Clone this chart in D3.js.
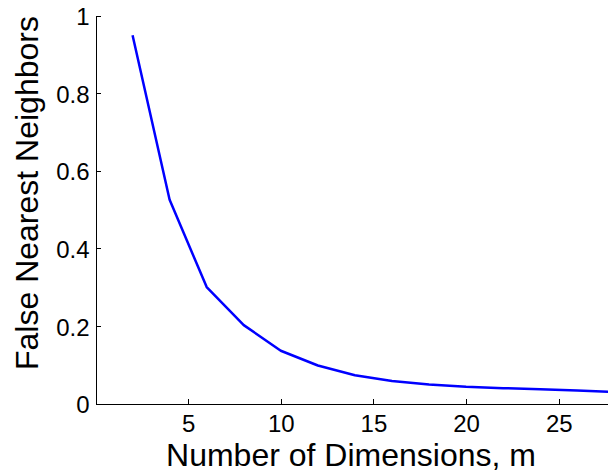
<!DOCTYPE html>
<html>
<head>
<meta charset="utf-8">
<script src="https://cdn.jsdelivr.net/npm/d3@7"></script>
<style>
  html, body { margin: 0; padding: 0; background: #fff; }
  svg { display: block; }
  text { font-family: "Liberation Sans", Arial, Helvetica, sans-serif; fill: #000; }
</style>
</head>
<body>
<svg id="chart" width="608" height="474"></svg>
<script>
// Embedding dimension m and the fraction of false nearest neighbours at each m
const dims = [2, 4, 6, 8, 10, 12, 14, 16, 18, 20, 22, 24, 26, 28];
const fnn  = [0.949, 0.525, 0.300, 0.202, 0.136, 0.098, 0.073, 0.058, 0.049, 0.043, 0.0395, 0.037, 0.0335, 0.030];

const xTicks = [5, 10, 15, 20, 25];
const yTicks = [0, 0.2, 0.4, 0.6, 0.8, 1];
const yTickLabels = ["0", "0.2", "0.4", "0.6", "0.8", "1"];

const xTitle = "Number of Dimensions, m";
const yTitle = "False Nearest Neighbors";

const svg = d3.select("#chart");

const x = d3.scaleLinear().domain([0, 28]).range([95.5, 95.5 + 28 * 18.53]);
const y = d3.scaleLinear().domain([0, 1]).range([403.5, 15.5]);

// curve
const line = d3.line().x((d, i) => x(dims[i])).y(d => y(d));
svg.append("path")
  .datum(fnn)
  .attr("d", line)
  .attr("fill", "none")
  .attr("stroke", "#0000ff")
  .attr("stroke-width", 2.5)
  .attr("stroke-linejoin", "round");

// bottom axis, ticks pointing inward
const gx = svg.append("g")
  .attr("transform", `translate(0,${y(0)})`)
  .call(d3.axisBottom(x).tickValues(xTicks).tickFormat(d3.format("d"))
    .tickSizeInner(-5).tickSizeOuter(0).tickPadding(11));

// left axis, ticks pointing inward
const gy = svg.append("g")
  .attr("transform", `translate(${x(0)},0)`)
  .call(d3.axisLeft(y).tickValues(yTicks).tickFormat((d, i) => yTickLabels[i])
    .tickSizeInner(-5).tickSizeOuter(0).tickPadding(6));

[gx, gy].forEach(g => {
  g.selectAll("path.domain").attr("stroke", "#000").attr("shape-rendering", "crispEdges");
  g.selectAll(".tick line").attr("stroke", "#000").attr("shape-rendering", "crispEdges");
  g.selectAll(".tick text").style("font-size", "24px").attr("fill", "#000");
});
gy.selectAll(".tick text").attr("dy", "0.38em");

// axis titles
svg.append("text")
  .attr("x", 351)
  .attr("y", 466)
  .attr("text-anchor", "middle")
  .style("font-size", "32px")
  .text(xTitle);

svg.append("text")
  .attr("transform", "translate(38,193) rotate(-90)")
  .attr("text-anchor", "middle")
  .style("font-size", "32px")
  .text(yTitle);
</script>
</body>
</html>
